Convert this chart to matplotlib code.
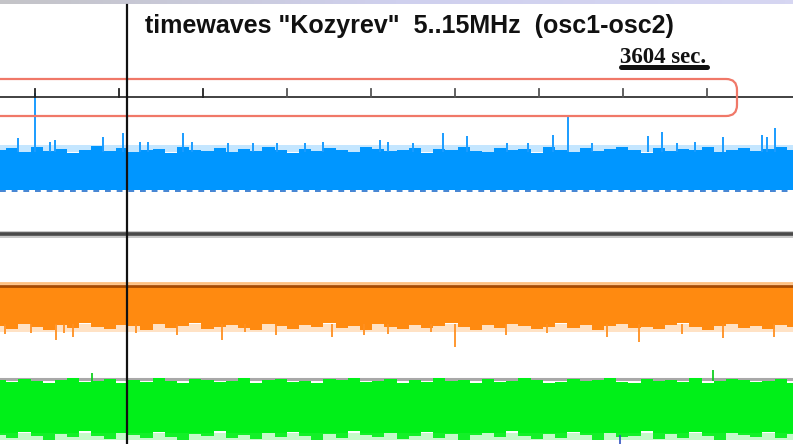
import numpy as np
import matplotlib
matplotlib.use("Agg")
import matplotlib.pyplot as plt
from matplotlib.patches import FancyBboxPatch

# time axis in hours, one tick per hour
tick_hours = [0, 1, 2, 3, 4, 5, 6, 7, 8]
marker_hour = 1.1
x_left, x_right = -0.417, 9.024

# channel levels (screen units, 0 at top)
axis_level = 97
blue_body = (152, 190)
blue_spike_h = [-0.20, 0.0, 0.18, 0.24, 0.81, 1.05, 1.25, 1.35, 1.76, 1.87, 2.30, 2.60,
                2.88, 3.21, 3.43, 4.11, 4.20, 4.50, 4.86, 5.14, 5.62, 5.87, 6.17, 6.35,
                6.63, 7.30, 7.46, 7.64, 7.86, 8.19, 8.65, 8.71, 8.81]
blue_spike_top = [138, 93, 142, 140, 137, 133, 142, 142, 133, 142, 143, 143,
                  143, 143, 142, 140, 142, 143, 133, 136, 143, 143, 135, 117,
                  143, 136, 132, 143, 142, 137, 135, 137, 128]
blue_edge = [150, 148, 152, 147, 151, 149, 153, 150, 146, 151, 148, 152, 150, 149, 153, 147,
             150, 151, 148, 152, 149, 151, 147, 150, 153, 149, 151, 148, 150, 152, 147, 149,
             151, 150, 148, 153, 149, 150, 147, 151, 152, 148, 150, 149, 153, 147, 150, 152,
             148, 151, 149, 147, 150, 153, 148, 151, 149, 150, 147, 152, 150, 148, 151, 149,
             147, 150]

gray_level = 234
orange_body = (286, 324)
orange_spike_h = [-0.36, -0.05, 0.45, 0.25, 0.35, 2.23, 1.69, 2.87, 3.53, 3.92, 4.72,
                  5.00, 5.61, 6.81, 7.19, 8.19, 8.80, 1.2, 2.5, 4.2, 6.1, 7.7]
orange_spike_bot = [334, 333, 337, 340, 333, 340, 335, 335, 337, 335, 332, 347,
                    335, 337, 342, 338, 337, 333, 332, 334, 333, 334]
orange_edge = [326, 329, 324, 327, 330, 325, 328, 323, 327, 329, 325, 326, 330, 324, 328, 326,
               323, 329, 327, 325, 328, 330, 324, 326, 329, 325, 327, 323, 328, 326, 330, 324,
               327, 329, 325, 328, 326, 323, 327, 330, 325, 328, 324, 326, 329, 327, 323, 328,
               325, 330, 326, 324, 328, 327, 329, 325, 323, 327, 330, 326, 324, 328, 326, 329,
               325, 327]

green_body = (381, 433)
green_spike_h = [0.68, 8.07]
green_spike_top = [373, 370]
green_top = [380, 382, 379, 381, 383, 380, 378, 382, 381, 379, 383, 380, 382, 378, 381, 383,
             379, 380, 382, 381, 378, 383, 380, 379, 382, 381, 383, 379, 380, 378, 382, 381,
             379, 383, 380, 382, 378, 381, 380, 383, 379, 382, 381, 378, 380, 383, 382, 379,
             381, 380, 378, 382, 383, 379, 381, 380, 382, 378, 383, 381, 379, 380, 382, 381,
             379, 383]
green_bottom = [435, 438, 432, 436, 440, 434, 437, 431, 436, 439, 433, 435, 438, 432, 437, 440,
                434, 436, 431, 438, 435, 439, 433, 437, 432, 436, 440, 434, 438, 431, 435, 437,
                433, 439, 436, 432, 438, 434, 440, 435, 433, 437, 431, 436, 439, 434, 438, 432,
                435, 440, 433, 437, 436, 431, 439, 434, 438, 432, 436, 440, 433, 435, 437, 432,
                438, 434]

fig = plt.figure(figsize=(7.93, 4.44), dpi=100)
ax = fig.add_axes([0, 0, 1, 1])
ax.set_xlim(x_left, x_right)
ax.set_ylim(444, 0)
ax.axis("off")

# top window strip
grad = np.linspace(0, 1, 100).reshape(1, -1)
ax.imshow(grad, extent=[x_left, x_right, 4.5, 0], aspect="auto",
          cmap=matplotlib.colors.LinearSegmentedColormap.from_list("s", ["#c4c4c8", "#cfd0ee", "#d6d6f2"]),
          zorder=1)

# title and scale bar
ax.text(1.31, 33.5, 'timewaves "Kozyrev"  5..15MHz  (osc1-osc2)', fontsize=18,
        fontweight="bold", family="Liberation Sans", color="#111111", va="baseline")
ax.text(6.96, 63, "3604 sec.", fontsize=16.5, fontweight="bold",
        family="Liberation Serif", color="#111111", va="baseline")
ax.plot([6.98, 8.0], [67.5, 67.5], color="#111111", lw=3.6, solid_capstyle="round")

# time axis
ax.axhline(axis_level, color="#333333", lw=1.3, zorder=3)
for i, h in enumerate(tick_hours):
    ax.plot([h, h], [axis_level - 8, axis_level], color="#222222" if i < 3 else "#555555",
            lw=1.3, zorder=3)

# red highlight box
bx0 = x_left - 0.2
box = FancyBboxPatch((bx0, 79), (737 - 35) / 84 - bx0, 37,
                     boxstyle="round,pad=0,rounding_size=0.13", mutation_aspect=84,
                     fill=False, ec="#f07868", lw=1.6, zorder=4)
ax.add_patch(box)

xs = np.array([x_left, x_right])
xe = np.linspace(x_left, x_right, len(blue_edge))

# blue channel
ax.fill_between(xs, blue_body[0] - 7, blue_body[0], color="#58b8ff", alpha=0.35, lw=0, zorder=2)
ax.fill_between(xe, blue_edge, blue_body[1], step="mid", color="#0096ff", lw=0, zorder=2)
ax.vlines(blue_spike_h, blue_spike_top, blue_body[0], color="#1a9cff", lw=1.4, zorder=2)
ax.plot(xs, [blue_body[1] + 1.5] * 2, color="#1466c8", lw=1.4, ls=(0, (3, 3)), alpha=0.8, zorder=2)

# gray channel
ax.plot(xs, [gray_level] * 2, color="#c8c8c8", lw=5, zorder=2)
ax.plot(xs, [gray_level] * 2, color="#4a4a4a", lw=2.6, zorder=2)

# orange channel
ax.fill_between(xs, orange_body[1], orange_body[1] + 8, color="#ffa040", alpha=0.3, lw=0, zorder=2)
ax.fill_between(xe, orange_body[0], orange_edge, step="mid", color="#ff8a10", lw=0, zorder=2)
ax.vlines(orange_spike_h, orange_body[1], orange_spike_bot, color="#ff9020", lw=1.3, zorder=2)
ax.plot(xs, [orange_body[0] - 3] * 2, color="#ffc080", lw=2, zorder=2)
ax.plot(xs, [orange_body[0]] * 2, color="#a84a00", lw=2, zorder=2)

# green channel
ax.plot(xs, [green_body[0] - 2] * 2, color="#a8a8a8", lw=2.2, zorder=2)
ax.fill_between(xe, green_top, green_bottom, step="mid", color="#00f018", lw=0, zorder=2)
ax.fill_between(xs, green_body[1], green_body[1] + 7, color="#40f050", alpha=0.3, lw=0, zorder=2)
ax.vlines(green_spike_h, green_spike_top, green_body[0], color="#10d020", lw=1.3, zorder=2)
ax.plot([6.96, 6.96], [436, 444], color="#3050c0", lw=1.2, zorder=2)

# marker line
ax.plot([marker_hour, marker_hour], [5, 444], color="#111111", lw=1.6, zorder=5)

fig.savefig("out.png", dpi=100)
